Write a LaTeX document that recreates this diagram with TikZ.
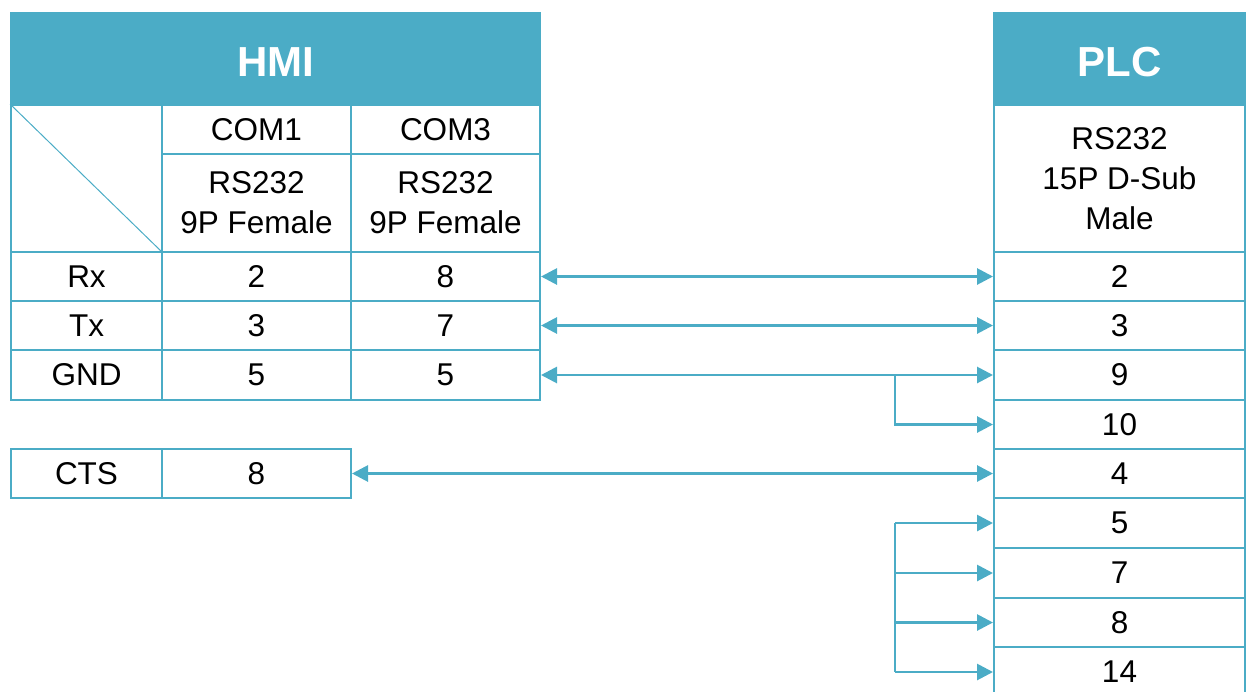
\documentclass[tikz,border=0pt]{standalone}
\usepackage{fontspec}
\setmainfont{Liberation Sans}
\usetikzlibrary{arrows.meta}
\definecolor{tc}{HTML}{4BACC6}
\newcommand{\cellnode}[7][]{%
  \node[cell,#1,minimum width={(#4-#2)*1pt},minimum height={(#5-#3)*1pt}] (#6) at ({(#2+#4)/2},{(#3+#5)/2}) {#7};}
\tikzset{
  cell/.style={draw=tc,line width=2pt,inner sep=0pt,align=center,font=\fontsize{31.5}{40.3}\selectfont,text=black},
  head/.style={fill=tc,text=white,font=\fontsize{42}{48}\selectfont\bfseries},
  conn/.style={draw=tc,line width=2.8pt},
  >={Triangle[length=16pt,width=16pt]}
}
\begin{document}
\begin{tikzpicture}[x=1pt,y=-1pt]
\useasboundingbox (0,0) rectangle (1246,691);
% HMI
\cellnode[head]{11}{13}{540}{105}{hhead}{}
\node[text=white,font=\fontsize{42}{48}\selectfont\bfseries] (hheadt) at ([yshift=-3pt]hhead.center) {HMI};
\cellnode{11}{105}{162}{252}{hcorner}{}
\draw[tc,line width=1pt] (hcorner.north west) -- (hcorner.south east);
\cellnode{162}{105}{351}{154}{hcom1}{COM1}
\cellnode{351}{105}{540}{154}{hcom3}{COM3}
\cellnode{162}{154}{351}{252}{htype1}{RS232\\9P Female}
\cellnode{351}{154}{540}{252}{htype3}{RS232\\9P Female}
\cellnode{11}{252}{162}{301}{hrx}{Rx}
\cellnode{162}{252}{351}{301}{hrxa}{2}
\cellnode{351}{252}{540}{301}{hrxb}{8}
\cellnode{11}{301}{162}{350}{htx}{Tx}
\cellnode{162}{301}{351}{350}{htxa}{3}
\cellnode{351}{301}{540}{350}{htxb}{7}
\cellnode{11}{350}{162}{400}{hgnd}{GND}
\cellnode{162}{350}{351}{400}{hgnda}{5}
\cellnode{351}{350}{540}{400}{hgndb}{5}
\cellnode{11}{449}{162}{498}{hcts}{CTS}
\cellnode{162}{449}{351}{498}{hctsa}{8}
% PLC
\cellnode[head]{994}{13}{1245}{105}{phead}{}
\node[text=white,font=\fontsize{42}{48}\selectfont\bfseries] (pheadt) at ([yshift=-3pt]phead.center) {PLC};
\cellnode{994}{105}{1245}{252}{ptype}{RS232\\15P D-Sub\\Male}
\cellnode{994}{252}{1245}{301}{pa}{2}
\cellnode{994}{301}{1245}{350}{pb}{3}
\cellnode{994}{350}{1245}{400}{pc}{9}
\cellnode{994}{400}{1245}{449}{pd}{10}
\cellnode{994}{449}{1245}{498}{pe}{4}
\cellnode{994}{498}{1245}{548}{pf}{5}
\cellnode{994}{548}{1245}{598}{pg}{7}
\cellnode{994}{598}{1245}{647}{ph}{8}
\cellnode{994}{647}{1245}{697}{pi}{14}
% connectors
\coordinate (bx) at (895,0);
\draw[conn,<->] (hrxb.east) -- (pa.west);
\draw[conn,<->] (htxb.east) -- (pb.west);
\draw[conn,<->] (hgndb.east) -- (pc.west);
\draw[conn,->] (bx |- pc.west) |- (pd.west);
\draw[conn,<->] (hctsa.east) -- (pe.west);
\draw[conn] (bx |- pf.west) -- (bx |- pi.west);
\draw[conn,->] (bx |- pf.west) -- (pf.west);
\draw[conn,->] (bx |- pg.west) -- (pg.west);
\draw[conn,->] (bx |- ph.west) -- (ph.west);
\draw[conn,->] (bx |- pi.west) -- (pi.west);
\end{tikzpicture}
\end{document}
